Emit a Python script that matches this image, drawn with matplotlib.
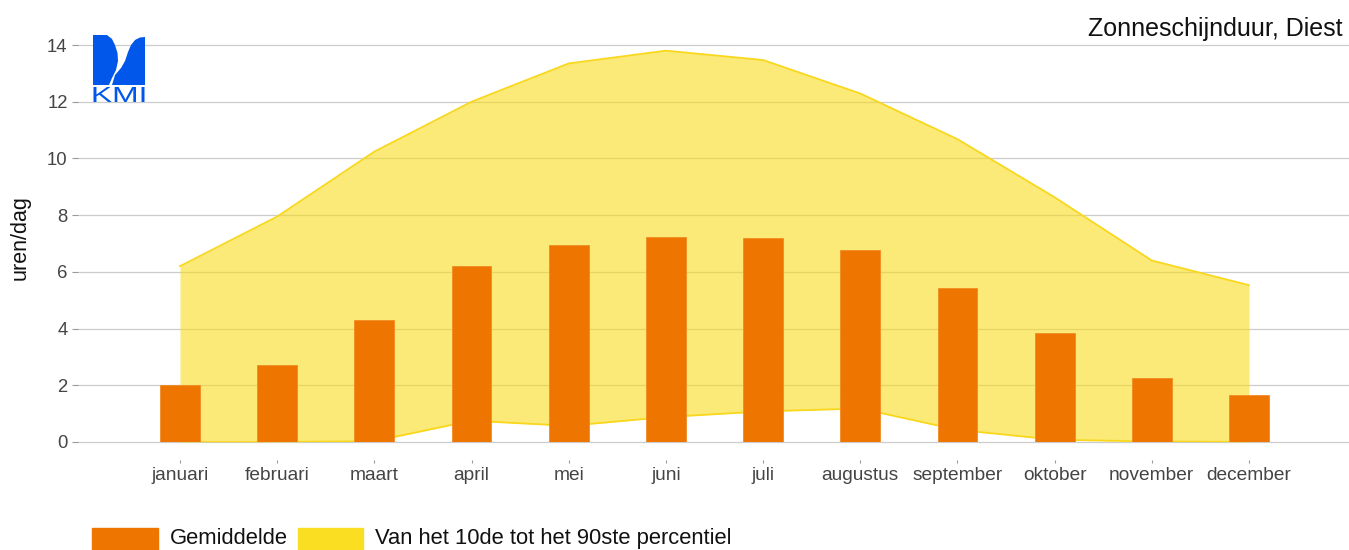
import matplotlib
matplotlib.use("Agg")
import matplotlib.pyplot as plt
from matplotlib.patches import Polygon, Rectangle, PathPatch
from matplotlib.textpath import TextPath
from matplotlib.font_manager import FontProperties
from matplotlib.transforms import Affine2D

plt.rcParams['font.family'] = ['Liberation Sans', 'DejaVu Sans']

# data
maanden = ['januari', 'februari', 'maart', 'april', 'mei', 'juni',
           'juli', 'augustus', 'september', 'oktober', 'november', 'december']
gemiddelde = [2.01, 2.72, 4.30, 6.21, 6.94, 7.22, 7.19, 6.77, 5.42, 3.84, 2.26, 1.66]
p10 = [0.0, 0.0, 0.03, 0.75, 0.57, 0.88, 1.08, 1.18, 0.43, 0.08, 0.02, 0.0]
p90 = [6.20, 7.95, 10.24, 12.0, 13.35, 13.80, 13.47, 12.29, 10.68, 8.63, 6.40, 5.53]
yticks = [0, 2, 4, 6, 8, 10, 12, 14]

W, H = 1349, 550
fig = plt.figure(figsize=(W / 100, H / 100), dpi=100)

# plot area in pixels
left, right, top, bottom = 78, 1349, 45, 442
ax = fig.add_axes([left / W, 1 - bottom / H, (right - left) / W, (bottom - top) / H])

x = list(range(len(maanden)))
ax.fill_between(x, p10, p90, color='#F9DC1E', alpha=0.6, lw=0, zorder=1)
ax.plot(x, p90, color='#F9D71C', lw=1.3, zorder=1.5)
ax.plot(x, p10, color='#F9D71C', lw=1.3, zorder=1.5)
ax.bar(x, gemiddelde, width=0.41, color='#EE7600', edgecolor='#F28A25', lw=0.6, zorder=2)

ax.set_xlim((left - 180) / 97.18, (right - 180) / 97.18)
ax.set_ylim(0, 14)
ax.set_yticks(yticks)
ax.set_xticks(x)
ax.set_xticklabels(maanden)

ax.grid(axis='y', color='#CCCCCC', lw=0.9, zorder=0)
for gl in ax.get_ygridlines():
    gl.set_clip_on(False)
ax.set_axisbelow(True)
for s in ax.spines.values():
    s.set_visible(False)
ax.spines['bottom'].set_position(('outward', 13))

ax.tick_params(axis='y', length=4, width=0.8, color='#999999', pad=3.5,
               labelsize=13.3, labelcolor='#444444')
ax.tick_params(axis='x', length=2, width=0.8, color='#999999', pad=3,
               labelsize=13.8, labelcolor='#444444')

fig.text(20 / W, 1 - 238 / H, 'uren/dag', rotation=90, ha='center', va='center',
         fontsize=15.5, color='#111111')
fig.text(1343 / W, 1 - 36 / H, 'Zonneschijnduur, Diest', ha='right', va='baseline',
         fontsize=18, color='#111111')

# legend, drawn by hand at the bottom
fig.patches.append(Rectangle((92 / W, 1 - 552 / H), 66 / W, 24 / H,
                             transform=fig.transFigure, color='#EE7600'))
fig.text(170 / W, 1 - 544 / H, 'Gemiddelde', ha='left', va='baseline',
         fontsize=15.8, color='#111111')
fig.patches.append(Rectangle((298 / W, 1 - 552 / H), 65 / W, 24 / H,
                             transform=fig.transFigure, color='#F9DE21'))
fig.text(375 / W, 1 - 544 / H, 'Van het 10de tot het 90ste percentiel', ha='left',
         va='baseline', fontsize=15.8, color='#111111')

# KMI logo
lax = fig.add_axes([93 / W, 1 - 103 / H, 52 / W, 68 / H])
lax.set_xlim(93, 145)
lax.set_ylim(103, 35)
lax.axis('off')
blauw = '#0057EA'
links = [(93, 35), (107, 35), (112, 39), (115, 45), (117.5, 53), (118, 61),
         (116, 70), (112, 78), (109, 85), (93, 85)]
rechts = [(145, 37), (140, 37.5), (135, 40), (131, 45), (128, 52), (125, 61),
          (121, 68), (115, 75), (112, 85), (145, 85)]
lax.add_patch(Polygon(links, closed=True, color=blauw, lw=0))
lax.add_patch(Polygon(rechts, closed=True, color=blauw, lw=0))

# stretch the letters to fill the logo width
tp = TextPath((0, 0), 'KMI', size=10, prop=FontProperties(family='Liberation Sans'))
bb = tp.get_extents()
sx = 51 / bb.width
sy = 15 / bb.height
tr = Affine2D().translate(-bb.x0, -bb.y0).scale(sx, -sy).translate(93.5, 102)
lax.add_patch(PathPatch(tr.transform_path(tp), color=blauw, lw=0))

fig.savefig('out.png', dpi=100)
